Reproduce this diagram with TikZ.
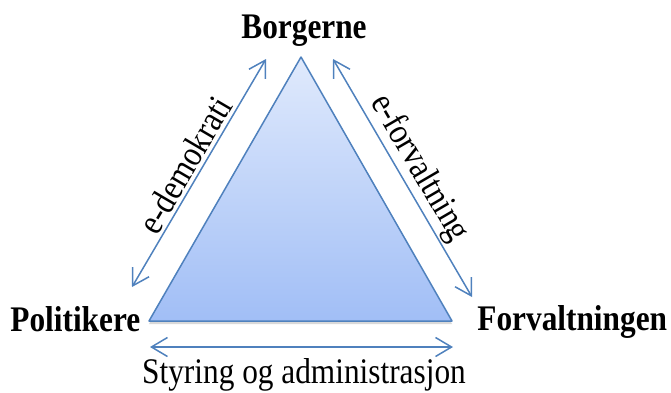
\documentclass[tikz,border=0pt]{standalone}
\usepackage{fontspec}
\setmainfont[FakeStretch=0.87]{Liberation Serif}
\usetikzlibrary{arrows.meta,shadows}

\definecolor{edgeblue}{HTML}{4F81BD}
\definecolor{topblue}{HTML}{E0EAFC}
\definecolor{botblue}{HTML}{A1BEF6}

\begin{document}
\begin{tikzpicture}[x=1pt, y=-1pt, thick]
\tikzstyle{vertexl}=[font=\fontsize{36}{40}\selectfont\bfseries, inner sep=0pt]
\tikzstyle{edgel}=[font=\fontsize{36}{40}\selectfont, inner sep=0pt]
\tikzstyle{drawstyle}=[draw=edgeblue, line width=1.5pt, {Straight Barb[length=16pt,width=19pt]}-{Straight Barb[length=16pt,width=19pt]}]
\tikzstyle{trianglestyle}=[draw=edgeblue, line width=1.5pt, line join=round, top color=topblue, bottom color=botblue, drop shadow={shadow xshift=0pt, shadow yshift=-3pt, opacity=0.3}]

\useasboundingbox (0,0) rectangle (671,392);

% triangle corners
\coordinate (T0x0) at (301,57);
\coordinate (T1x0) at (149,321);
\coordinate (T2x0) at (452,321);
\path[trianglestyle] (T0x0) -- (T1x0) -- (T2x0) -- cycle;

% corner labels
\node[vertexl, anchor=base] (B0) at (304,38) {Borgerne};
\node[vertexl, anchor=base west] (P0) at (10,331) {Politikere};
\node[vertexl, anchor=base west] (F0) at (477,330) {Forvaltningen};

% arrow ends
\coordinate (A0x0) at (132,287);
\coordinate (A0x1) at (266,59);
\coordinate (A1x0) at (333,59);
\coordinate (A1x1) at (472,297);
\coordinate (A2x0) at (150,347);
\coordinate (A2x1) at (453,347);

\draw[drawstyle] (A0x0) -- node[edgel, sloped, above=3pt] (L0) {e-demokrati} (A0x1);
\draw[drawstyle] (A1x0) -- node[edgel, sloped, above=2pt] (L1) {e-forvaltning} (A1x1);
\draw[drawstyle] (A2x0) -- (A2x1);
\node[edgel, anchor=base] (L2) at (304,383) {Styring og administrasjon};
\end{tikzpicture}
\end{document}
